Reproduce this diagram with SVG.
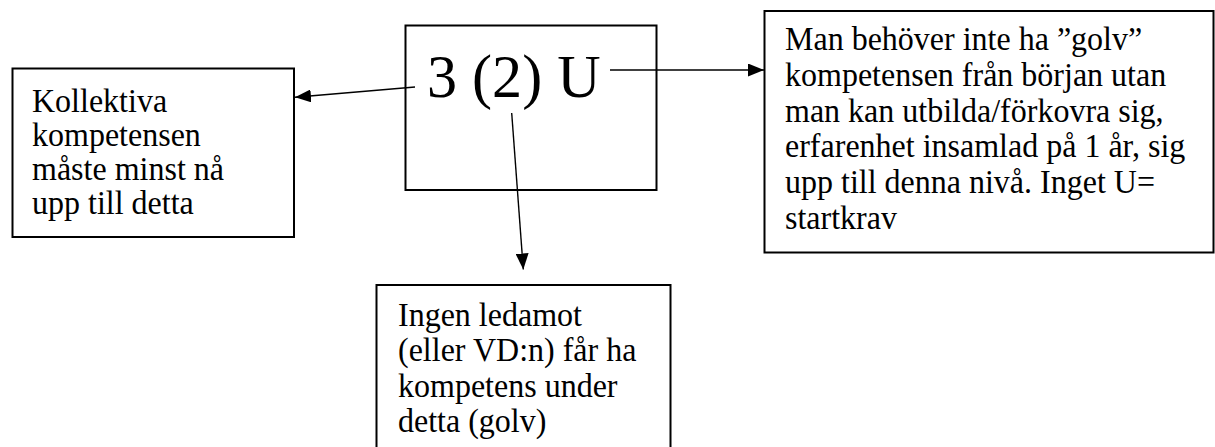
<svg xmlns="http://www.w3.org/2000/svg" width="1215" height="447" viewBox="0 0 1215 447">
<style>
.box{fill:#fff;stroke:#000;stroke-width:2}
.t{font-family:"Liberation Serif","Times New Roman",serif;font-size:33px;fill:#000}
.big{font-family:"Liberation Serif","Times New Roman",serif;font-size:62px;fill:#000}
.con{stroke:#000;stroke-width:1.4;fill:none;marker-end:url(#ah)}
</style>
<defs>
<marker id="ah" markerUnits="userSpaceOnUse" markerWidth="16" markerHeight="13" refX="16" refY="6.5" orient="auto">
<path d="M0,0 L16,6.5 L0,13 z" fill="#000"/>
</marker>
</defs>
<rect width="1215" height="447" fill="#fff"/>
<g id="center">
<rect class="box" x="405.5" y="25.5" width="251" height="164.5"/>
<text class="big" transform="matrix(0.97,0,0,1,427,0)" x="0" y="97">3 (2) U</text>
</g>
<g id="left">
<rect class="box" x="12.5" y="68.5" width="281.5" height="168.5"/>
<text class="t" transform="matrix(0.97,0,0,1,32,0)"><tspan x="0" y="112">Kollektiva</tspan><tspan x="0" y="146">kompetensen</tspan><tspan x="0" y="180">måste minst nå</tspan><tspan x="0" y="214">upp till detta</tspan></text>
</g>
<g id="right">
<rect class="box" x="764.5" y="11" width="449" height="241.5"/>
<text class="t" transform="matrix(0.97,0,0,1,785,0)"><tspan x="0" y="50">Man behöver inte ha ”golv”</tspan><tspan x="0" y="86">kompetensen från början utan</tspan><tspan x="0" y="122">man kan utbilda/förkovra sig,</tspan><tspan x="0" y="157.5">erfarenhet insamlad på 1 år, sig</tspan><tspan x="0" y="193">upp till denna nivå. Inget U=</tspan><tspan x="0" y="229">startkrav</tspan></text>
</g>
<g id="bottom">
<rect class="box" x="376.5" y="285" width="294" height="180"/>
<text class="t" transform="matrix(0.97,0,0,1,398,0)"><tspan x="0" y="326">Ingen ledamot</tspan><tspan x="0" y="361.5">(eller VD:n) får ha</tspan><tspan x="0" y="397.5">kompetens under</tspan><tspan x="0" y="432">detta (golv)</tspan></text>
</g>
<g id="connectors">
<line class="con" x1="415" y1="87" x2="295" y2="97.3"/>
<line class="con" x1="610" y1="70" x2="764" y2="70"/>
<line class="con" x1="511.7" y1="113" x2="523.3" y2="269.5"/>
</g>
</svg>
